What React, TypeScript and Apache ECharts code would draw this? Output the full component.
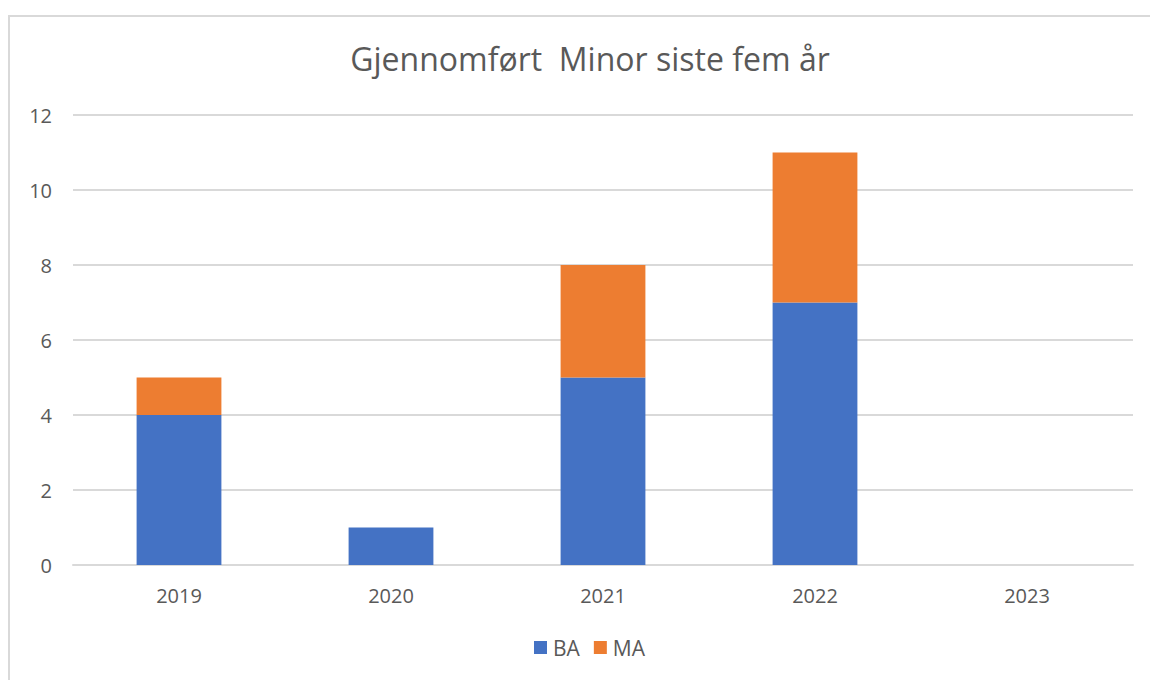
import React, { useEffect, useRef } from "react";
import * as echarts from "echarts";

const categories = ["2019", "2020", "2021", "2022", "2023"];
const baValues = [4, 1, 5, 7, 0];
const maValues = [1, 0, 3, 4, 0];
const titleText = "Gjennomført  Minor siste fem år";

export default function App() {
  const ref = useRef<HTMLDivElement>(null);
  useEffect(() => {
    if (!ref.current) return;
    const chart = echarts.init(ref.current, null, { renderer: "svg" });
    const font = "'Open Sans', 'Noto Sans', sans-serif";
    chart.setOption({
      animation: false,
      backgroundColor: "#ffffff",
      textStyle: { fontFamily: font },
      title: {
        text: titleText,
        left: 585,
        textAlign: "center",
        top: 37,
        textStyle: { fontFamily: font, fontSize: 32, fontWeight: "normal", color: "#595959" },
      },
      graphic: [
        {
          type: "rect",
          shape: { x: 9, y: 16, width: 1300, height: 800 },
          style: { fill: "none", stroke: "#d9d9d9", lineWidth: 2 },
          silent: true,
        },
      ],
      legend: {
        data: ["BA", "MA"],
        bottom: 17,
        left: 529,
        itemWidth: 13,
        itemHeight: 13,
        itemGap: 14,
        icon: "rect",
        textStyle: { fontFamily: font, fontSize: 21, color: "#595959", padding: [0, 0, 0, 1] },
      },
      grid: { left: 73, right: 17, top: 115, bottom: 115 },
      xAxis: {
        type: "category",
        data: categories,
        axisLine: { lineStyle: { color: "#d9d9d9", width: 2 } },
        axisTick: { show: false },
        axisLabel: { fontFamily: font, fontSize: 20, color: "#595959", margin: 20 },
      },
      yAxis: {
        type: "value",
        min: 0,
        max: 12,
        interval: 2,
        axisLine: { show: false },
        axisTick: { show: false },
        splitLine: { lineStyle: { color: "#d9d9d9", width: 2 } },
        axisLabel: { fontFamily: font, fontSize: 20, color: "#595959", margin: 21 },
      },
      series: [
        {
          name: "BA",
          type: "bar",
          stack: "total",
          barWidth: "40%",
          data: baValues,
          itemStyle: { color: "#4472C4" },
        },
        {
          name: "MA",
          type: "bar",
          stack: "total",
          barWidth: "40%",
          data: maValues,
          itemStyle: { color: "#ED7D31" },
        },
      ],
    });
    return () => chart.dispose();
  }, []);
  return (
    <div
      ref={ref}
      style={{ position: "fixed", left: 0, top: 0, width: 1150, height: 680 }}
    />
  );
}
